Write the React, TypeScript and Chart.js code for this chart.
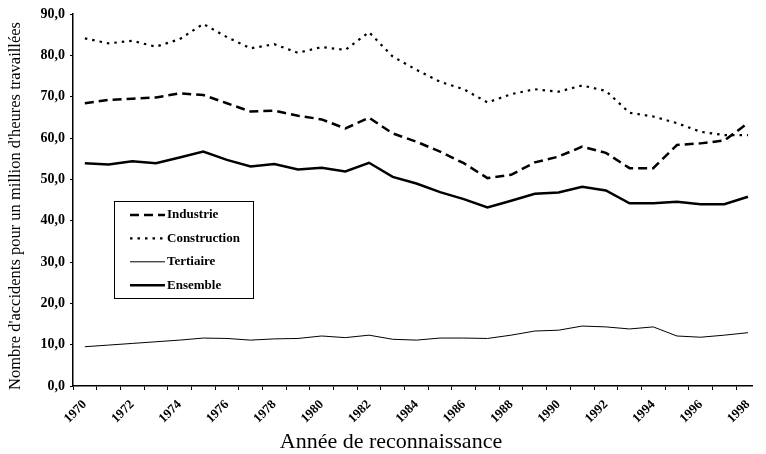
import React, { useEffect, useRef } from "react";
import { Chart, registerables } from "chart.js";

Chart.register(...registerables);

const years = [
  1970, 1971, 1972, 1973, 1974, 1975, 1976, 1977, 1978, 1979,
  1980, 1981, 1982, 1983, 1984, 1985, 1986, 1987, 1988, 1989,
  1990, 1991, 1992, 1993, 1994, 1995, 1996, 1997, 1998,
];

const industrie = [
  68.4, 69.2, 69.5, 69.8, 70.8, 70.4, 68.4, 66.4, 66.6, 65.4,
  64.5, 62.3, 64.9, 61.1, 59.1, 56.7, 53.9, 50.3, 51.1, 54.1,
  55.5, 57.9, 56.4, 52.7, 52.7, 58.3, 58.7, 59.4, 63.6,
];

const construction = [
  84.1, 82.9, 83.5, 82.1, 83.9, 87.6, 84.4, 81.7, 82.7, 80.6,
  82.0, 81.3, 85.6, 79.7, 76.5, 73.6, 71.8, 68.6, 70.6, 71.8,
  71.2, 72.7, 71.4, 66.1, 65.2, 63.6, 61.5, 60.7, 60.7,
];

const tertiaire = [
  9.5, 9.9, 10.3, 10.7, 11.1, 11.6, 11.5, 11.1, 11.4, 11.5,
  12.1, 11.7, 12.3, 11.3, 11.1, 11.6, 11.6, 11.5, 12.3, 13.3,
  13.5, 14.5, 14.3, 13.8, 14.3, 12.1, 11.8, 12.3, 12.9,
];

const ensemble = [
  53.9, 53.6, 54.4, 53.9, 55.3, 56.7, 54.7, 53.1, 53.7, 52.4,
  52.8, 51.9, 54.0, 50.6, 49.0, 46.9, 45.2, 43.2, 44.8, 46.5,
  46.8, 48.2, 47.3, 44.2, 44.2, 44.6, 44.0, 44.0, 45.8,
];

const xTickLabels = [
  "1970", "1972", "1974", "1976", "1978", "1980", "1982", "1984",
  "1986", "1988", "1990", "1992", "1994", "1996", "1998",
];

const yTickValues = [0, 10, 20, 30, 40, 50, 60, 70, 80, 90];

const seriesNames = ["Industrie", "Construction", "Tertiaire", "Ensemble"];

const xTitle = "Année de reconnaissance";
const yTitle = "Nombre d'accidents pour un million d'heures travaillées";

const SERIF = "'Liberation Serif', 'DejaVu Serif', serif";

const decorPlugin = {
  id: "decor",
  afterDraw(chart: any) {
    const { ctx, chartArea } = chart;
    ctx.save();
    // Axis titles
    ctx.fillStyle = "#000";
    ctx.font = `22px ${SERIF}`;
    ctx.textAlign = "center";
    ctx.textBaseline = "alphabetic";
    ctx.fillText(xTitle, 391, 448);

    ctx.save();
    ctx.translate(20, 206);
    ctx.rotate(-Math.PI / 2);
    ctx.font = `16.5px ${SERIF}`;
    ctx.textAlign = "center";
    ctx.textBaseline = "alphabetic";
    ctx.fillText(yTitle, 0, 0);
    ctx.restore();

    // Boxed legend
    const left = chartArea.left + 41;
    const top = chartArea.top + 187;
    const w = 139;
    const h = 97;
    ctx.strokeStyle = "#000";
    ctx.lineWidth = 1;
    ctx.setLineDash([]);
    ctx.fillStyle = "#fff";
    ctx.fillRect(left, top, w, h);
    ctx.strokeRect(left + 0.5, top + 0.5, w, h);
    chart.data.datasets.forEach((ds: any, i: number) => {
      const y = top + 14 + i * 23.4;
      ctx.beginPath();
      ctx.strokeStyle = "#000";
      ctx.lineWidth = ds.borderWidth;
      ctx.setLineDash(ds.borderDash || []);
      ctx.moveTo(left + 16, y);
      ctx.lineTo(left + 51, y);
      ctx.stroke();
      ctx.setLineDash([]);
      ctx.fillStyle = "#000";
      ctx.font = `bold 13px ${SERIF}`;
      ctx.textBaseline = "middle";
      ctx.textAlign = "left";
      ctx.fillText(ds.label, left + 53, y);
    });
    ctx.restore();
  },
};

export default function App() {
  const ref = useRef<HTMLCanvasElement | null>(null);

  useEffect(() => {
    if (!ref.current) return;
    const mk = (vals: number[]) => years.map((x, i) => ({ x, y: vals[i] }));
    const chart = new Chart(ref.current, {
      type: "line",
      data: {
        datasets: [
          {
            label: seriesNames[0],
            data: mk(industrie),
            borderColor: "#000",
            borderWidth: 2.5,
            borderDash: [9, 5],
            pointRadius: 0,
            tension: 0,
          },
          {
            label: seriesNames[1],
            data: mk(construction),
            borderColor: "#000",
            borderWidth: 2.2,
            borderDash: [2.5, 5],
            pointRadius: 0,
            tension: 0,
          },
          {
            label: seriesNames[2],
            data: mk(tertiaire),
            borderColor: "#000",
            borderWidth: 1,
            pointRadius: 0,
            tension: 0,
          },
          {
            label: seriesNames[3],
            data: mk(ensemble),
            borderColor: "#000",
            borderWidth: 2.5,
            pointRadius: 0,
            tension: 0,
          },
        ],
      },
      options: {
        animation: false,
        responsive: false,
        maintainAspectRatio: false,
        layout: { padding: { top: 14, left: 0, right: 0, bottom: 0 } },
        plugins: {
          legend: { display: false },
          tooltip: { enabled: false },
        },
        scales: {
          x: {
            type: "linear",
            min: 1969.5,
            max: 1998.18,
            afterBuildTicks: (s: any) => {
              const t: any[] = [];
              for (let i = 0; i < years.length; i++) {
                t.push({ value: years[i] - 0.5 });
                if (xTickLabels.includes(String(years[i]))) t.push({ value: years[i] });
              }
              s.ticks = t;
            },
            afterFit: (s: any) => {
              s.height = 68;
            },
            ticks: {
              autoSkip: false,
              maxRotation: 45,
              minRotation: 45,
              padding: 7,
              color: "#000",
              font: { family: SERIF, size: 13, weight: "bold" },
              callback: (v: any) => {
                const s = String(v);
                return xTickLabels.includes(s) ? s : "";
              },
            },
            grid: {
              display: true,
              drawOnChartArea: false,
              tickLength: 4,
              tickColor: (c: any) =>
                c.tick && Number.isInteger(c.tick.value) ? "rgba(0,0,0,0)" : "#000",
              tickWidth: 1,
            },
            border: { display: true, color: "#000", width: 1.5 },
            title: { display: false },
          },
          y: {
            min: 0,
            max: 90,
            afterBuildTicks: (s: any) => {
              s.ticks = yTickValues.map((v) => ({ value: v }));
            },
            afterFit: (s: any) => {
              s.width = 73;
            },
            ticks: {
              color: "#000",
              padding: 5,
              font: { family: SERIF, size: 14, weight: "bold" },
              callback: (v: any) => Number(v).toFixed(1).replace(".", ","),
            },
            grid: {
              display: true,
              drawOnChartArea: false,
              tickLength: 3,
              tickColor: "#000",
            },
            border: { display: true, color: "#000", width: 1.5 },
            title: { display: false },
          },
        },
      },
      plugins: [decorPlugin],
    } as any);
    return () => chart.destroy();
  }, []);

  return (
    <div style={{ position: "fixed", left: 0, top: 0, width: 766, height: 454, background: "#fff" }}>
      <canvas ref={ref} width={766} height={454} style={{ width: 766, height: 454 }} />
    </div>
  );
}
